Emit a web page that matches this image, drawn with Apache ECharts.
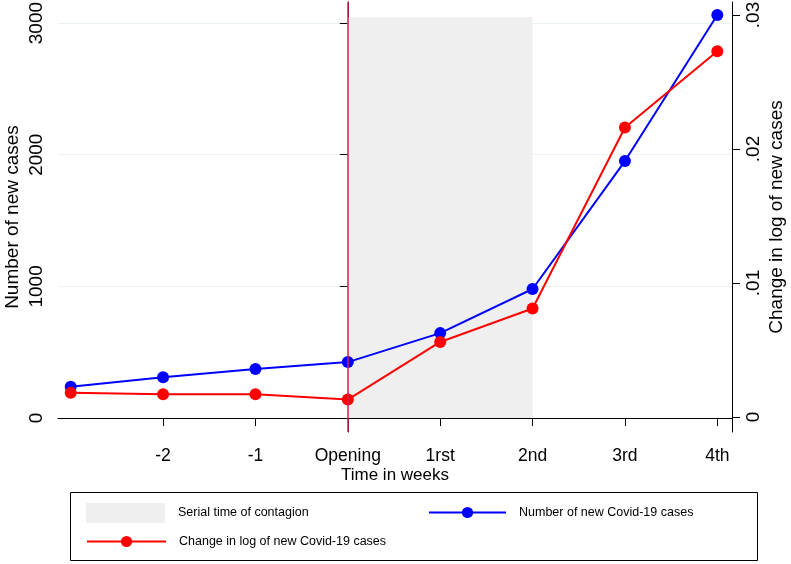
<!DOCTYPE html>
<html>
<head>
<meta charset="utf-8">
<script src="https://cdn.jsdelivr.net/npm/echarts@6/dist/echarts.min.js"></script>
<style>html,body{margin:0;padding:0;background:#fff}#c{width:791px;height:564px}</style>
</head>
<body>
<div id="c"></div>
<script>
// ---- data ----
const weeks = [-3, -2, -1, 0, 1, 2, 3, 4];
const tickValues = [-2, -1, 0, 1, 2, 3, 4];
const tickLabels = ['-2', '-1', 'Opening', '1rst', '2nd', '3rd', '4th'];
const newCases = [238, 309, 372, 425, 645, 980, 1952, 3061];
const logChange = [0.0018, 0.0017, 0.0017, 0.0013, 0.0056, 0.0081, 0.0216, 0.0273];
const leftTicks = [0, 1000, 2000, 3000];
const rightTicks = [0, 0.01, 0.02, 0.03];
const contagionStart = 0, contagionEnd = 2, contagionTop = 3045;
const openingWeek = 0;

const FONT = 'Liberation Sans, Arial, sans-serif';
const chart = echarts.init(document.getElementById('c'), null, {renderer: 'canvas'});
const labelOf = v => { const i = tickValues.indexOf(Math.round(v)); return i >= 0 ? tickLabels[i] : ''; };
const fmtRight = v => v === 0 ? '0' : ('' + v.toFixed(2)).replace(/^0/, '');
const legendText = {fontFamily: FONT, fontSize: 12.5, color: '#000', padding: [0, 0, 0, 8]};

chart.setOption({
  animation: false,
  backgroundColor: '#fff',
  grid: {left: 58, right: 59, top: 2, bottom: 132, outerBoundsMode: 'none', containLabel: false},
  xAxis: {
    type: 'value', min: -3.1375, max: 4.159,
    name: 'Time in weeks', nameLocation: 'middle', nameGap: 35, nameMoveOverlap: false,
    nameTextStyle: {fontFamily: FONT, fontSize: 17, color: '#000'},
    axisLine: {show: true, lineStyle: {color: '#000', width: 1}},
    axisTick: {show: true, customValues: tickValues, length: 8, lineStyle: {color: '#000'}},
    axisLabel: {customValues: tickValues, formatter: labelOf, fontFamily: FONT, fontSize: 17.5, color: '#000', margin: 15},
    splitLine: {show: false}
  },
  yAxis: [{
    type: 'value', min: -106, max: 3160, position: 'left',
    name: 'Number of new cases', nameLocation: 'middle', nameRotate: 90, nameGap: 36, nameMoveOverlap: false,
    nameTextStyle: {fontFamily: FONT, fontSize: 19, color: '#000'},
    axisLine: {show: true, lineStyle: {color: '#000', width: 1}},
    axisTick: {show: true, customValues: leftTicks, length: 8, lineStyle: {color: '#000'}},
    axisLabel: {customValues: leftTicks, rotate: 90, formatter: v => String(Math.round(v)), fontFamily: FONT, fontSize: 19, color: '#000', margin: 12},
    splitLine: {show: true, lineStyle: {color: '#eaf3f3', width: 1}}
  }, {
    type: 'value', min: -0.00112, max: 0.03097, position: 'right',
    name: 'Change in log of new cases', nameLocation: 'middle', nameRotate: 90, nameGap: 35, nameMoveOverlap: false,
    nameTextStyle: {fontFamily: FONT, fontSize: 19, color: '#000'},
    axisLine: {show: true, lineStyle: {color: '#000', width: 1}},
    axisTick: {show: true, customValues: rightTicks, length: 8, lineStyle: {color: '#000'}},
    axisLabel: {customValues: rightTicks, rotate: 90, formatter: fmtRight, fontFamily: FONT, fontSize: 19, color: '#000', margin: 12},
    splitLine: {show: false}
  }],
  legend: [{
    left: 86, top: 503, padding: 0, itemWidth: 79, itemHeight: 20, itemGap: 0,
    textStyle: legendText,
    data: [{name: 'Serial time of contagion', icon: 'rect', itemStyle: {color: '#efefef'}}]
  }, {
    left: 428, top: 506, padding: 0, itemWidth: 77, itemHeight: 14, itemGap: 0,
    textStyle: legendText,
    data: ['Number of new Covid-19 cases']
  }, {
    left: 86, top: 535, padding: 0, itemWidth: 79, itemHeight: 14, itemGap: 0,
    textStyle: legendText,
    data: ['Change in log of new Covid-19 cases']
  }],
  graphic: [{
    type: 'rect', shape: {x: 70.5, y: 492.5, width: 687, height: 68},
    style: {fill: 'none', stroke: '#000', lineWidth: 1}, silent: true
  }],
  series: [{
    name: 'Serial time of contagion', type: 'line', yAxisIndex: 0, data: [],
    itemStyle: {color: '#efefef'}, lineStyle: {color: '#efefef'},
    markArea: {silent: true, itemStyle: {color: '#efefef'},
      data: [[{coord: [contagionStart, 0]}, {coord: [contagionEnd, contagionTop]}]]},
    markLine: {silent: true, symbol: 'none', label: {show: false},
      lineStyle: {color: '#d61f4e', width: 1.5, type: 'solid'},
      data: [{xAxis: openingWeek}]}
  }, {
    name: 'Number of new Covid-19 cases', type: 'line', yAxisIndex: 0,
    data: weeks.map((w, i) => [w, newCases[i]]),
    symbol: 'circle', symbolSize: 12,
    itemStyle: {color: '#0000ff'}, lineStyle: {color: '#0000ff', width: 2}, z: 3
  }, {
    name: 'Change in log of new Covid-19 cases', type: 'line', yAxisIndex: 1,
    data: weeks.map((w, i) => [w, logChange[i]]),
    symbol: 'circle', symbolSize: 12,
    itemStyle: {color: '#ff0000'}, lineStyle: {color: '#ff0000', width: 2}, z: 4
  }]
});
</script>
</body>
</html>
